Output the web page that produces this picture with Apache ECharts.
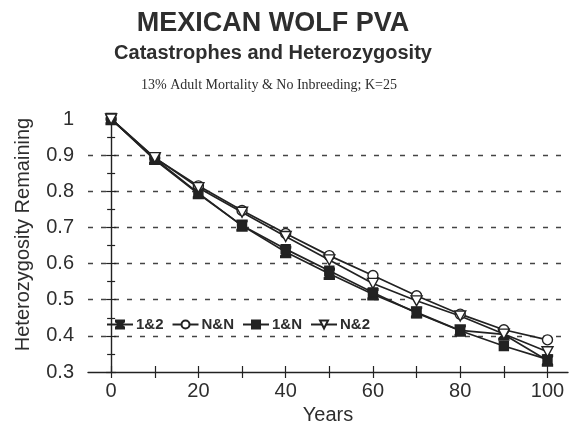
<!DOCTYPE html>
<html>
<head>
<meta charset="utf-8">
<script src="https://cdn.jsdelivr.net/npm/echarts@6/dist/echarts.min.js"></script>
<style>
  html, body { margin: 0; padding: 0; background: #fff; }
  #chart { width: 579px; height: 432px; }
</style>
</head>
<body>
<div id="chart"></div>
<script>
// Heterozygosity retained over 100 years under four catastrophe scenarios
const years = [0, 10, 20, 30, 40, 50, 60, 70, 80, 90, 100];
const s12 = [1.0, 0.890, 0.795, 0.705, 0.632, 0.572, 0.515, 0.465, 0.415, 0.404, 0.332];
const sNN = [1.0, 0.892, 0.815, 0.747, 0.683, 0.622, 0.567, 0.511, 0.460, 0.417, 0.389];
const s1N = [1.0, 0.887, 0.793, 0.705, 0.640, 0.580, 0.520, 0.463, 0.414, 0.372, 0.335];
const sN2 = [1.0, 0.893, 0.810, 0.742, 0.675, 0.610, 0.545, 0.497, 0.455, 0.405, 0.356];
const seriesNames = ['1&2', 'N&N', '1&N', 'N&2'];
const xTickValues = [0, 10, 20, 30, 40, 50, 60, 70, 80, 90, 100];
const xLabelValues = [0, 20, 40, 60, 80, 100];

const ink = '#222';
const textCol = '#2e2e2e';
const hourglass = 'path://M0,0 L10,0 L10,1.5 L6,5 L10,8.5 L10,10 L0,10 L0,8.5 L4,5 L0,1.5 Z';
const downTri = 'path://M0,0 L10,0 L5,9 Z';

function pairs(vals) { return years.map((y, i) => [y, vals[i]]); }

function lineSeries(name, vals, symbol, size, fill) {
  return {
    name: name,
    type: 'line',
    data: pairs(vals),
    symbol: symbol,
    symbolSize: size,
    showAllSymbol: true,
    lineStyle: { color: ink, width: 1.7 },
    itemStyle: { color: fill, borderColor: ink, borderWidth: 1.4 },
    emphasis: { disabled: true },
    z: 3
  };
}

const chart = echarts.init(document.getElementById('chart'), null, { renderer: 'canvas' });
chart.setOption({
  backgroundColor: '#fff',
  animation: false,
  title: [
    { text: 'MEXICAN WOLF PVA', left: 268, top: 5, textAlign: 'center',
      textStyle: { fontFamily: 'Liberation Sans, Arial', fontWeight: 'bold', fontSize: 27, color: textCol } },
    { text: 'Catastrophes and Heterozygosity', left: 268, top: 38, textAlign: 'center',
      textStyle: { fontFamily: 'Liberation Sans, Arial', fontWeight: 'bold', fontSize: 20, color: textCol } },
    { text: '13% Adult Mortality & No Inbreeding; K=25', left: 264, top: 73, textAlign: 'center',
      textStyle: { fontFamily: 'Liberation Serif, Times New Roman', fontWeight: 'normal', fontSize: 14, color: textCol } }
  ],
  legend: {
    data: seriesNames,
    left: 101, top: 312,
    itemWidth: 26, itemHeight: 10, itemGap: 8,
    textStyle: { fontFamily: 'Liberation Sans, Arial', fontWeight: 'bold', fontSize: 15, color: textCol, padding: [0, 0, 0, -2] },
    inactiveColor: '#ccc'
  },
  grid: { left: 88, right: 11, top: 119, bottom: 60, containLabel: false },
  xAxis: [
    {
      type: 'value', min: -5.3, max: 104.7, position: 'bottom',
      name: 'Years', nameLocation: 'middle', nameGap: 31,
      nameTextStyle: { fontFamily: 'Liberation Sans, Arial', fontSize: 20, color: textCol },
      axisLine: { show: true, lineStyle: { color: ink, width: 1.4 } },
      axisTick: { show: true, customValues: xTickValues, length: 6, lineStyle: { color: ink, width: 1.2 } },
      axisLabel: { customValues: xLabelValues, margin: 9,
        fontFamily: 'Liberation Sans, Arial', fontSize: 20, color: textCol },
      splitLine: { show: false }
    },
    {
      type: 'value', min: -5.3, max: 104.7, position: 'bottom',
      axisLine: { show: false },
      axisTick: { show: true, inside: true, customValues: xTickValues, length: 6, lineStyle: { color: ink, width: 1.2 } },
      axisLabel: { show: false },
      splitLine: { show: false }
    }
  ],
  yAxis: [
    {
      type: 'value', min: 0.3, max: 1, interval: 0.1, position: 'left',
      name: 'Heterozygosity Remaining', nameLocation: 'middle', nameGap: 55,
      nameTextStyle: { fontFamily: 'Liberation Sans, Arial', fontSize: 20, color: textCol, padding: [0, 0, 0, 22] },
      axisLine: { show: true, lineStyle: { color: ink, width: 1.4 } },
      axisTick: { show: true, length: 5, lineStyle: { color: ink, width: 1.2 } },
      minorTick: { show: true, splitNumber: 2, length: 4, lineStyle: { color: ink, width: 1.2 } },
      axisLabel: { margin: 14, fontFamily: 'Liberation Sans, Arial', fontSize: 20, color: textCol,
        formatter: v => String(+v.toFixed(1)) },
      splitLine: { show: true, showMinLine: false, showMaxLine: false,
        lineStyle: { color: '#444', width: 1.3, type: [5, 8] } }
    },
    {
      type: 'value', min: 0.3, max: 1, interval: 0.1, position: 'left',
      axisLine: { show: false },
      axisTick: { show: true, inside: true, length: 5, lineStyle: { color: ink, width: 1.2 } },
      minorTick: { show: true, splitNumber: 2, length: 4, lineStyle: { color: ink, width: 1.2 } },
      axisLabel: { show: false },
      splitLine: { show: false }
    }
  ],
  series: [
    lineSeries('1&2', s12, hourglass, [10, 11], ink),
    lineSeries('N&N', sNN, 'circle', 10, '#fff'),
    lineSeries('1&N', s1N, 'rect', 9, ink),
    lineSeries('N&2', sN2, downTri, [11, 10], '#fff')
  ]
});
</script>
</body>
</html>
